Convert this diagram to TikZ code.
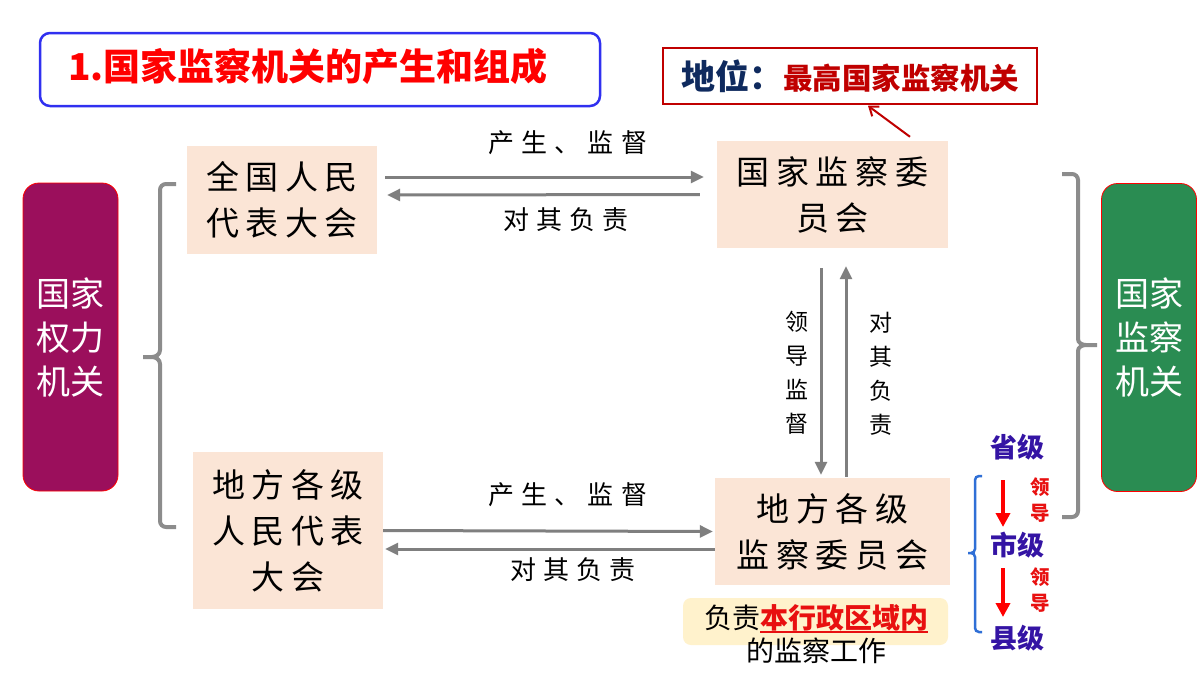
\documentclass[tikz,border=0pt]{standalone}
\usepackage{fontspec}
\setmainfont{Noto Sans CJK SC}
\newfontfamily\boxfont[LetterSpace=20]{Noto Sans CJK SC}
\newfontfamily\labelfont[LetterSpace=27]{Noto Sans CJK SC}
\usepackage{tikz}
\usetikzlibrary{arrows.meta, positioning}
\definecolor{peach}{HTML}{FBE5D6}
\definecolor{arrowgray}{HTML}{7F7F7F}
\definecolor{bracegray}{HTML}{8C8C8C}
\definecolor{powerpurple}{HTML}{9B0F5C}
\definecolor{supgreen}{HTML}{2A8C52}
\definecolor{navy}{HTML}{0F2A5E}
\definecolor{darkred}{HTML}{C00000}
\definecolor{brightred}{HTML}{E81010}
\definecolor{levelblue}{HTML}{3414A4}
\definecolor{braceblue}{HTML}{2F6FD6}
\definecolor{notefill}{HTML}{FFF2CC}
\definecolor{titleblue}{HTML}{3030F0}
\newcommand\redline[1]{\setbox0\hbox{#1}\rlap{\rule[-5pt]{\wd0}{2.5pt}}\box0}
\tikzset{
    organ/.style={rectangle, fill=peach, align=center, font=\boxfont\fontsize{33pt}{46pt}\selectfont},
    flow/.style={draw=arrowgray, line width=3pt, -{Triangle[length=13pt, width=12pt]}},
    flowlabel/.style={font=\labelfont\fontsize{26pt}{30pt}\selectfont, inner sep=0pt},
    vlabel/.style={align=center, font=\fontsize{23pt}{34pt}\selectfont, inner sep=0pt},
    bracket/.style={draw=bracegray, line width=4pt},
    organtype/.style={rectangle, rounded corners=16pt, draw=red, line width=0.8pt, text=white, align=center, minimum width=95pt, minimum height=308pt, font=\fontsize{34pt}{44pt}\selectfont}
}
\begin{document}
\begin{tikzpicture}[
    x=1pt, y=-1pt,
    level/.style={text=levelblue, font=\bfseries\fontsize{27pt}{30pt}\selectfont, inner sep=0pt},
    lead/.style={text=brightred, align=center, font=\bfseries\fontsize{19.5pt}{26pt}\selectfont, inner sep=0pt},
    leadarrow/.style={draw=red, line width=4pt, -{Triangle[length=14pt, width=14pt]}}
]
    \path[fill=white] (0,0) rectangle (1200,675);
    \useasboundingbox (0,0) rectangle (1200,675);

    % Heading and status label
    \node[rectangle, rounded corners=10pt, draw=titleblue, line width=2.5pt, minimum width=560pt, minimum height=73pt] (titlebox) at (320,69.5) {};
    \node[text=red, font=\bfseries\fontsize{37pt}{40pt}\selectfont, inner sep=0pt] (title) at (308,66) {1.国家监察机关的产生和组成};
    \node[rectangle, draw=darkred, line width=1.5pt, minimum width=374pt, minimum height=56pt, inner sep=0pt] (status) at (850,76)
        {{\color{navy}\bfseries\fontsize{34pt}{36pt}\selectfont 地位：}{\color{darkred}\bfseries\fontsize{29.5pt}{36pt}\selectfont 最高国家监察机关}};

    % Row 1: national level
    \node[organ, minimum width=190pt, minimum height=108pt] (npc) at (282,200) {全国人民\\代表大会};
    \node[organ, minimum width=231pt, minimum height=107pt] (ncs) at (832.5,194.5) {国家监察委\\员会};

    % Row 2: local level
    \node[organ, minimum width=190pt, minimum height=157pt] (lpc) at (288,530.5) {地方各级\\人民代表\\大会};
    \node[organ, minimum width=235pt, minimum height=107pt] (lsc) at (832.5,531.5) {地方各级\\监察委员会};

    % Side blocks
    \node[organtype, fill=powerpurple] (power) at (70.5,337) {国家\\权力\\机关};
    \node[organtype, fill=supgreen] (organs) at (1149,337.5) {国家\\监察\\机关};

    % Horizontal arrows
    \draw[flow] ([shift={(8,-23)}]npc.east) -- ([shift={(-13,-17.5)}]ncs.west);
    \draw[flow] ([shift={(-17,0)}]ncs.west) -- ([shift={(10,-5)}]npc.east);
    \draw[flow] (lpc.east) -- ([shift={(-2,0)}]lsc.west);
    \draw[flow] ([shift={(0,17.5)}]lsc.west) -- ([shift={(2,18.5)}]lpc.east);
    \node[flowlabel] (up1) at (568,143) {产生、监督};
    \node[flowlabel] (down1) at (566,220) {对其负责};
    \node[flowlabel] (up2) at (568,495) {产生、监督};
    \node[flowlabel] (down2) at (573,570) {对其负责};

    % Vertical arrows
    \draw[flow] ([shift={(-11.5,20)}]ncs.south) -- ([shift={(-11.5,-3)}]lsc.north);
    \draw[flow] ([shift={(13.5,-1)}]lsc.north) -- ([shift={(13.5,18)}]ncs.south);
    \node[vlabel] (guide) at (797,373) {领\\导\\监\\督};
    \node[vlabel] (answer) at (881,374) {对\\其\\负\\责};

    % Status pointer
    \draw[draw=darkred, line width=2pt, -{Straight Barb[length=8pt, width=12pt]}] ([shift={(77.5,-4)}]ncs.north) -- ([shift={(18,1)}]status.south);

    % Braces
    \draw[bracket] (176,184) -- (166,184) to[out=180,in=90] (160,190) -- (160,350) to[out=-90,in=0] (152,357) -- (143,357)
        -- (152,357) to[out=0,in=90] (160,364) -- (160,521) to[out=-90,in=180] (166,527) -- (176,527);
    \draw[bracket] (1062,174) -- (1072,174) to[out=0,in=90] (1078,180) -- (1078,339) to[out=-90,in=180] (1086,345) -- (1097,345)
        -- (1086,345) to[out=180,in=90] (1078,351) -- (1078,511) to[out=-90,in=0] (1072,517) -- (1062,517);

    % Levels of supervisory commissions
    \node[level] (prov) at (1017,447) {省级};
    \node[level] (city) at (1017,545) {市级};
    \node[level] (county) at (1017,638) {县级};
    \draw[leadarrow] ([shift={(-14,33)}]prov.center) -- ([shift={(-14,-18)}]city.center);
    \draw[leadarrow] ([shift={(-14,23)}]city.center) -- ([shift={(-14,-21)}]county.center);
    \node[lead] (lead1) at (1040,500) {领\\导};
    \node[lead] (lead2) at (1040,590) {领\\导};
    \draw[draw=braceblue, line width=2.5pt] (982,476) -- (979,476) to[out=180,in=90] (975,480) -- (975,549) to[out=-90,in=0] (971,553) -- (968,553)
        -- (971,553) to[out=0,in=90] (975,557) -- (975,628) to[out=-90,in=180] (979,632) -- (982,632);

    % Scope note
    \node[rectangle, rounded corners=8pt, fill=notefill, minimum width=265pt, minimum height=47pt] (notebg) at (815.5,621.5) {};
    \node[align=center, font=\fontsize{28pt}{33pt}\selectfont, inner sep=0pt] (note) at (816,634)
        {负责{\color{brightred}\bfseries\redline{本行政区域内}}\\的监察工作};

\end{tikzpicture}
\end{document}
